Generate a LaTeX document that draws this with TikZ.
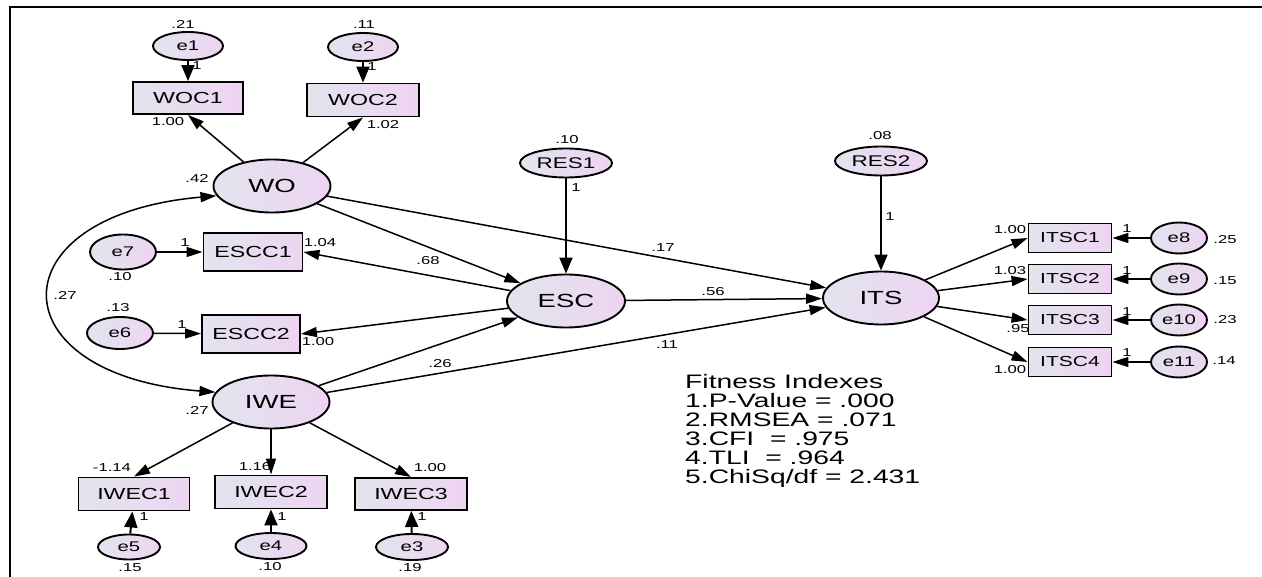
\documentclass[tikz,border=0pt]{standalone}
\usepackage{fontspec}
\setmainfont{Liberation Sans}
\newfontfamily\lsans[FakeStretch=1.45]{Liberation Sans}
\usetikzlibrary{shapes.geometric,arrows.meta}
\definecolor{fillL}{RGB}{226,228,238}
\definecolor{fillR}{RGB}{238,212,242}
\tikzset{
  base/.style={draw=black, line width=1.9pt, inner sep=0pt, left color=fillL, right color=fillR},
  lat/.style={base, ellipse, minimum width=117pt, minimum height=53pt, font=\lsans\fontsize{19}{19}\selectfont},
  res/.style={base, ellipse, minimum width=92pt, minimum height=29pt, font=\lsans\fontsize{15.5}{15.5}\selectfont},
  err/.style={base, ellipse, minimum width=70pt, minimum height=28pt, font=\lsans\fontsize{14}{14}\selectfont},
  errs/.style={base, ellipse, minimum width=56pt, minimum height=31pt, font=\lsans\fontsize{14}{14}\selectfont},
  obs/.style={base, rectangle, minimum width=111pt, minimum height=33pt, font=\lsans\fontsize{16}{16}\selectfont},
  obss/.style={base, rectangle, minimum width=83pt, minimum height=29pt, font=\lsans\fontsize{14.5}{14.5}\selectfont},
  num/.style={inner sep=0pt, font=\lsans\fontsize{11.5}{12}\selectfont},
  arr/.style={line width=1.5pt, -{Triangle[length=16pt,width=10pt]}},
  earr/.style={line width=2pt, -{Triangle[length=16pt,width=13pt]}},
  biarr/.style={line width=1.5pt, {Triangle[length=16pt,width=10pt]}-{Triangle[length=16pt,width=10pt]}},
}
\begin{document}
\begin{tikzpicture}[x=1pt,y=-1pt]
\useasboundingbox (0,0) rectangle (1262,577);
\fill[white] (0,0) rectangle (1262,577);
\draw[line width=2.6pt] (10,577) -- (10,7) -- (1262,7);

% latent variables
\node[lat] (WO) at (272,186) {WO};
\node[lat] (IWE) at (271,402) {IWE};
\node[lat, minimum width=118pt] (ESC) at (566,301) {ESC};
\node[lat, minimum width=116pt] (ITS) at (881,298) {ITS};
\node[res] (RES1) at (566,163) {RES1};
\node[res] (RES2) at (881,161) {RES2};

% WO indicators
\node[obs, minimum width=110pt, minimum height=32pt] (WOC1) at (188,98) {WOC1};
\node[obs, minimum width=112pt] (WOC2) at (363,100) {WOC2};
\node[err] (e1) at (188,46) {e1};
\node[err] (e2) at (363,47) {e2};

% ESC indicators
\node[obs, minimum width=99pt, minimum height=38pt] (ESCC1) at (253,252) {ESCC1};
\node[obs, minimum width=98pt, minimum height=38pt] (ESCC2) at (251,334) {ESCC2};
\node[err, minimum width=66pt, minimum height=35pt] (e7) at (123,252) {e7};
\node[err, minimum width=66pt, minimum height=32pt] (e6) at (120,333) {e6};

% IWE indicators
\node[obs] (IWEC1) at (134,494) {IWEC1};
\node[obs, minimum width=112pt] (IWEC2) at (271,492) {IWEC2};
\node[obs, minimum width=112pt, minimum height=32pt] (IWEC3) at (411,494) {IWEC3};
\node[err, minimum width=62pt, minimum height=25pt] (e5) at (129,547) {e5};
\node[err, minimum width=71pt, minimum height=26pt] (e4) at (271,546) {e4};
\node[err, minimum width=72pt, minimum height=26pt] (e3) at (412,547) {e3};

% ITS indicators
\node[obss] (ITSC1) at (1070,238) {ITSC1};
\node[obss] (ITSC2) at (1070,279) {ITSC2};
\node[obss] (ITSC3) at (1070,320) {ITSC3};
\node[obss] (ITSC4) at (1070,362) {ITSC4};
\node[errs] (e8) at (1179,238) {e8};
\node[errs] (e9) at (1179,279) {e9};
\node[errs] (e10) at (1179,320) {e10};
\node[errs] (e11) at (1179,362) {e11};

% error arrows
\draw[earr] (e1) -- (WOC1);
\draw[earr] (e2) -- (WOC2);
\draw[arr] (e7) -- (ESCC1);
\draw[arr] (e6) -- (ESCC2);
\draw[earr] (e5) -- (IWEC1);
\draw[earr] (e4) -- (IWEC2);
\draw[earr] (e3) -- (IWEC3);
\draw[arr] (e8) -- (ITSC1);
\draw[arr] (e9) -- (ITSC2);
\draw[arr] (e10) -- (ITSC3);
\draw[arr] (e11) -- (ITSC4);
\draw[earr] (RES1) -- (ESC);
\draw[earr] (RES2) -- (ITS);

% loadings
\draw[arr] (WO) -- (WOC1.south);
\draw[arr] (WO) -- (WOC2.south);
\draw[arr] (ESC) -- (ESCC1.east);
\draw[arr] (ESC) -- (ESCC2.east);
\draw[arr] (IWE) -- (IWEC1.north);
\draw[arr] (IWE) -- (IWEC2.north);
\draw[arr] (IWE) -- (IWEC3.north);
\draw[arr] (ITS) -- (ITSC1.west);
\draw[arr] (ITS) -- (ITSC2.west);
\draw[arr] (ITS) -- (ITSC3.west);
\draw[arr] (ITS) -- (ITSC4.west);

% structural paths
\draw[arr] (WO) -- (ESC);
\draw[arr] (WO) -- (ITS);
\draw[arr] (IWE) -- (ESC);
\draw[arr] (IWE) -- (ITS);
\draw[arr] (ESC) -- (ITS);
\draw[biarr] (IWE.170) .. controls (-5,375) and (-5,215) .. (WO.190);

% numbers
\node[num] at (183,24) {.21};
\node[num] at (364,25) {.11};
\node[num] at (197,66) {1};
\node[num] at (372,67) {1};
\node[num] at (168,122) {1.00};
\node[num] at (383,125) {1.02};
\node[num] at (197,178) {.42};
\node[num] at (120,277) {.10};
\node[num] at (118,308) {.13};
\node[num] at (185,243) {1};
\node[num] at (182,325) {1};
\node[num] at (320,243) {1.04};
\node[num] at (318,342) {1.00};
\node[num] at (65,295) {.27};
\node[num] at (428,261) {.68};
\node[num] at (663,248) {.17};
\node[num] at (713,292) {.56};
\node[num] at (667,345) {.11};
\node[num] at (440,364) {.26};
\node[num] at (197,410) {.27};
\node[num] at (112,468) {-1.14};
\node[num] at (255,467) {1.16};
\node[num] at (430,468) {1.00};
\node[num] at (144,517) {1};
\node[num] at (282,517) {1};
\node[num] at (422,517) {1};
\node[num] at (130,568) {.15};
\node[num] at (270,567) {.10};
\node[num] at (410,568) {.19};
\node[num] at (567,140) {.10};
\node[num] at (576,188) {1};
\node[num] at (880,136) {.08};
\node[num] at (890,217) {1};
\node[num] at (1010,230) {1.00};
\node[num] at (1010,271) {1.03};
\node[num] at (1018,329) {.95};
\node[num] at (1010,370) {1.00};
\node[num] at (1127,229) {1};
\node[num] at (1127,271) {1};
\node[num] at (1127,312) {1};
\node[num] at (1127,353) {1};
\node[num] at (1225,240) {.25};
\node[num] at (1225,281) {.15};
\node[num] at (1225,320) {.23};
\node[num] at (1224,361) {.14};

% fitness indexes
\node[anchor=north west, inner sep=0pt, align=left, font=\lsans\fontsize{19.5}{19}\selectfont] (fit) at (685,374)
  {Fitness Indexes\\1.P-Value = .000\\2.RMSEA = .071\\3.CFI~~= .975\\4.TLI~~= .964\\5.ChiSq/df = 2.431};
\end{tikzpicture}
\end{document}
